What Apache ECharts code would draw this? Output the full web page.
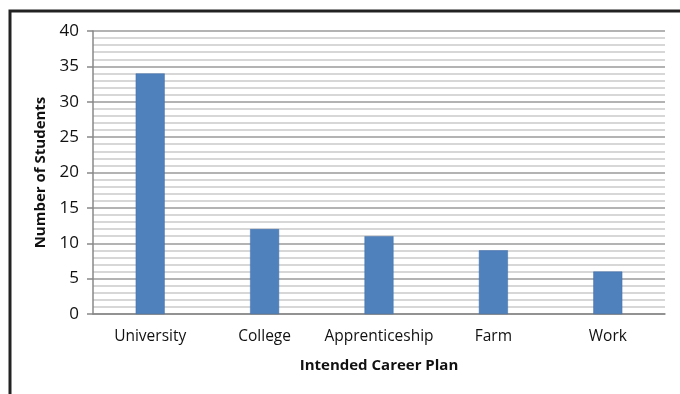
<!DOCTYPE html>
<html>
<head>
<meta charset="utf-8">
<script src="https://cdn.jsdelivr.net/npm/echarts@6/dist/echarts.min.js"></script>
<style>
html,body{margin:0;padding:0;background:#fff;}
#diagram{width:680px;height:394px;}
</style>
</head>
<body>
<div id="diagram"></div>
<script>
var categories = ['University', 'College', 'Apprenticeship', 'Farm', 'Work'];
var students = [34, 12, 11, 9, 6];
var yTicks = [0, 5, 10, 15, 20, 25, 30, 35, 40];

var font = "'Open Sans', 'Liberation Sans', sans-serif";

var option = {
	animation: false,
	backgroundColor: '#fff',
	grid: {
		left: 93,
		right: 15,
		top: 31,
		bottom: 80
	},
	graphic: [{
		type: 'rect',
		shape: {x: 10, y: 11, width: 700, height: 420},
		style: {fill: 'none', stroke: '#222', lineWidth: 3},
		silent: true
	}],
	xAxis: {
		type: 'category',
		data: categories,
		name: 'Intended Career Plan',
		nameLocation: 'middle',
		nameGap: 44,
		nameTextStyle: {fontFamily: font, fontWeight: 'bold', fontSize: 15, color: '#111'},
		axisLine: {lineStyle: {color: '#888', width: 1.5}},
		axisTick: {show: false},
		axisLabel: {interval: 0, fontFamily: font, fontSize: 15.5, color: '#111', margin: 15}
	},
	yAxis: {
		type: 'value',
		min: yTicks[0],
		max: yTicks[yTicks.length - 1],
		interval: 5,
		name: 'Number of Students',
		nameLocation: 'middle',
		nameGap: 43,
		nameTextStyle: {fontFamily: font, fontWeight: 'bold', fontSize: 15, color: '#111'},
		axisLine: {show: true, lineStyle: {color: '#888', width: 1.5}},
		axisTick: {show: true, length: 6, lineStyle: {color: '#888', width: 1.5}},
		axisLabel: {fontFamily: font, fontSize: 17, color: '#111', margin: 14},
		splitLine: {show: true, lineStyle: {color: '#9a9a9a', width: 1.5}},
		minorTick: {show: false, splitNumber: 5},
		minorSplitLine: {show: true, lineStyle: {color: '#cacaca', width: 1.5}}
	},
	series: [{
		type: 'bar',
		data: students,
		barWidth: 29,
		itemStyle: {color: '#4f81bd', borderColor: '#3f6fa8', borderWidth: 0.5}
	}]
};

var myChart = echarts.init(document.getElementById('diagram'), null, {renderer: 'canvas'});
myChart.setOption(option);
</script>
</body>
</html>
